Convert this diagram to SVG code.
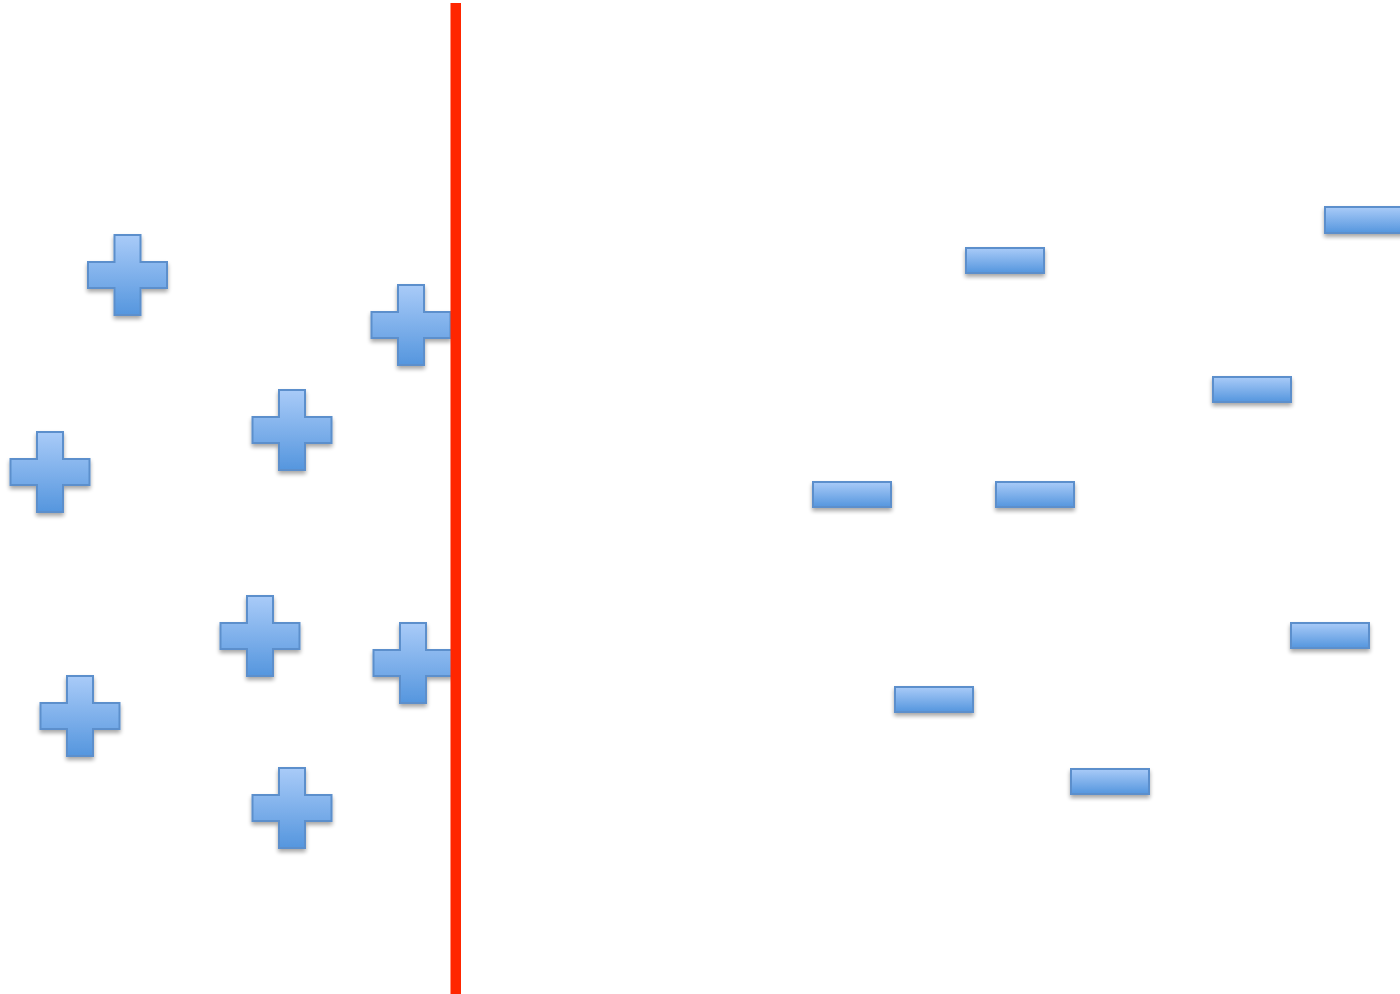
<svg xmlns="http://www.w3.org/2000/svg" width="1400" height="994" viewBox="0 0 1400 994">
<defs>
<linearGradient id="g" x1="0" y1="0" x2="0" y2="1">
<stop offset="0" stop-color="#A9CBF8"/>
<stop offset="1" stop-color="#5596DE"/>
</linearGradient>
<filter id="sh" x="-20%" y="-20%" width="140%" height="150%">
<feGaussianBlur in="SourceAlpha" stdDeviation="2"/>
<feOffset dx="0" dy="3" result="b"/>
<feComponentTransfer><feFuncA type="linear" slope="0.35"/></feComponentTransfer>
<feMerge><feMergeNode/><feMergeNode in="SourceGraphic"/></feMerge>
</filter>
<path id="plus" d="M-13,-40 H13 V-13 H39.5 V13 H13 V40 H-13 V13 H-39.5 V-13 H-13 Z"/>
</defs>
<style>
.s{fill:url(#g);stroke:#5B8FCC;stroke-width:2;filter:url(#sh)}
</style>
<rect width="1400" height="994" fill="#FFFFFF"/>
<g id="plus1"><use href="#plus" class="s" x="127.5" y="275"/></g>
<g id="plus2"><use href="#plus" class="s" x="411" y="325"/></g>
<g id="plus3"><use href="#plus" class="s" x="292" y="430"/></g>
<g id="plus4"><use href="#plus" class="s" x="50" y="472"/></g>
<g id="plus5"><use href="#plus" class="s" x="260" y="636"/></g>
<g id="plus6"><use href="#plus" class="s" x="413" y="663"/></g>
<g id="plus7"><use href="#plus" class="s" x="80" y="716"/></g>
<g id="plus8"><use href="#plus" class="s" x="292" y="808"/></g>
<g id="minus1"><rect class="s" x="966" y="248" width="78" height="25"/></g>
<g id="minus2"><rect class="s" x="1325" y="207" width="78" height="26"/></g>
<g id="minus3"><rect class="s" x="1213" y="377" width="78" height="25"/></g>
<g id="minus4"><rect class="s" x="813" y="482" width="78" height="25"/></g>
<g id="minus5"><rect class="s" x="996" y="482" width="78" height="25"/></g>
<g id="minus6"><rect class="s" x="1291" y="623" width="78" height="25"/></g>
<g id="minus7"><rect class="s" x="895" y="687" width="78" height="25"/></g>
<g id="minus8"><rect class="s" x="1071" y="769" width="78" height="25"/></g>
<g id="separator"><rect x="450.5" y="3" width="10.5" height="991" fill="#FF2600"/></g>
</svg>
